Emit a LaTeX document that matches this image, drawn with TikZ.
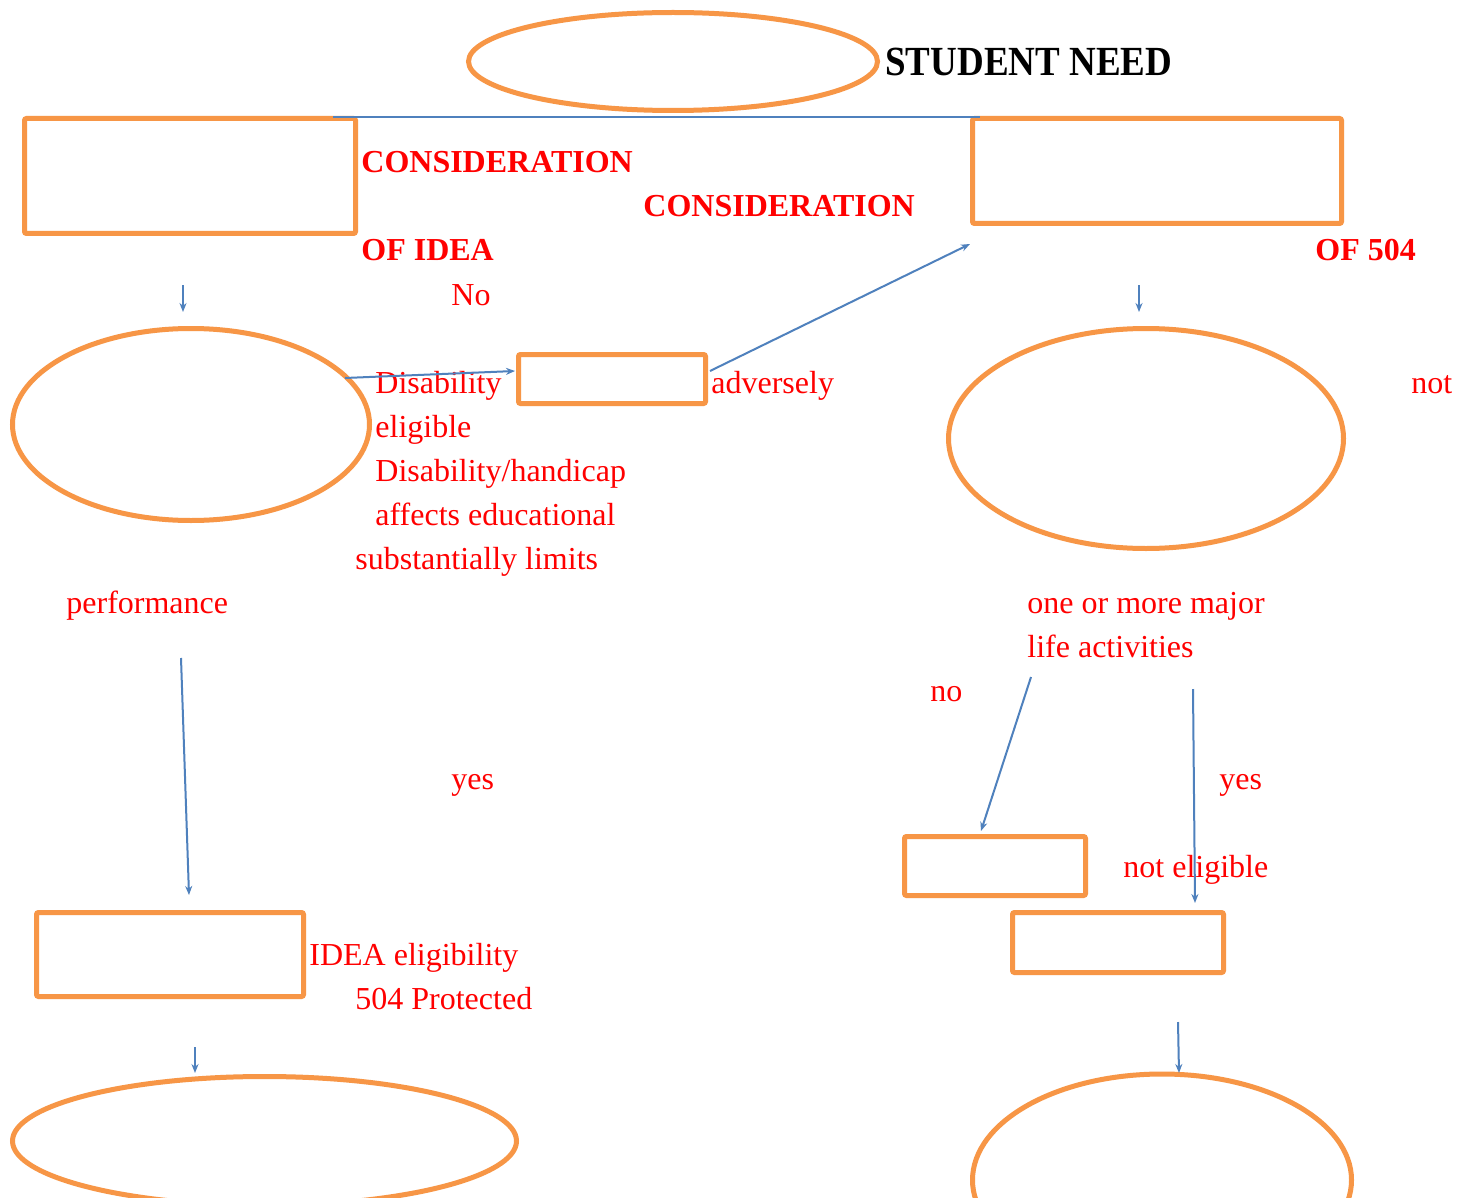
\documentclass[tikz,border=0pt]{standalone}
\usepackage{fontspec}
\setmainfont{Liberation Serif}
\usetikzlibrary{shapes.geometric,arrows.meta}
\definecolor{shapeorange}{HTML}{F79646}
\definecolor{linkblue}{HTML}{4F81BD}
\definecolor{txtred}{HTML}{FF0000}
\begin{document}
\begin{tikzpicture}[x=0.5pt,y=-0.5pt,
  oval/.style={ellipse,draw=shapeorange,line width=2.5pt,inner sep=0pt},
  boxnode/.style={rectangle,draw=shapeorange,line width=2.5pt,inner sep=0pt,rounded corners=1pt},
  lbl/.style={anchor=base west,inner sep=0pt,text=txtred,font=\fontsize{16}{19}\selectfont},
  blbl/.style={anchor=base west,inner sep=0pt,text=txtred,font=\fontsize{16}{19}\selectfont\bfseries},
  link/.style={draw=linkblue,line width=1pt},
  arr/.style={link,-{Stealth[length=4.5pt,width=3.5pt]}}]
\clip (0,0) rectangle (1471,1198);
\fill[white] (0,0) rectangle (1471,1198);
% ellipses
\node[oval,minimum width=204.5pt,minimum height=49pt] (e1) at (673,61.5) {};
\node[oval,minimum width=178.5pt,minimum height=96pt] (e2) at (191,424.5) {};
\node[oval,minimum width=197.5pt,minimum height=110pt] (e3) at (1146,438.5) {};
\node[oval,minimum width=252pt,minimum height=64.5pt] (e4) at (264.5,1141) {};
\node[oval,minimum width=189.5pt,minimum height=106pt] (e5) at (1162,1180) {};
% boxes
\node[boxnode,minimum width=165.5pt,minimum height=57.5pt] (r1) at (190,176) {};
\node[boxnode,minimum width=184.5pt,minimum height=52.5pt] (r2) at (1157,171) {};
\node[boxnode,minimum width=93.5pt,minimum height=24.5pt] (r3) at (612,379) {};
\node[boxnode,minimum width=133.5pt,minimum height=42pt] (r4) at (170,954.5) {};
\node[boxnode,minimum width=90.5pt,minimum height=29.5pt] (r5) at (995,866) {};
\node[boxnode,minimum width=105.5pt,minimum height=30pt] (r6) at (1118,942.5) {};
% texts
\node[anchor=base west,inner sep=0pt,font=\fontsize{18.5}{22}\selectfont\bfseries] (tsn) at (885,76) {\scalebox{1}[1.12]{STUDENT NEED}};
\node[blbl] (tc1) at (361,173) {CONSIDERATION};
\node[blbl] (tc2) at (643,217) {CONSIDERATION};
\node[blbl] (toi) at (361,261) {OF IDEA};
\node[blbl] (to5) at (1315,261) {OF 504};
\node[lbl] (tno1) at (451,305) {No};
\node[lbl] (tdis) at (375,393) {Disability};
\node[lbl] (tadv) at (711,393) {adversely};
\node[lbl] (tnot) at (1411,393) {not};
\node[lbl] (telg) at (375,437) {eligible};
\node[lbl] (tdh) at (375,481) {Disability/handicap};
\node[lbl] (taff) at (375,525) {affects educational};
\node[lbl] (tsub) at (355,569) {substantially limits};
\node[lbl] (tperf) at (66,613) {performance};
\node[lbl] (tmaj) at (1027,613) {one or more major};
\node[lbl] (tlife) at (1027,657) {life activities};
\node[lbl] (tno2) at (930,701) {no};
\node[lbl] (tyes1) at (451,789) {yes};
\node[lbl] (tyes2) at (1219,789) {yes};
\node[lbl] (tnel) at (1123,877) {not eligible};
\node[lbl] (tidea) at (309,965) {IDEA eligibility};
\node[lbl] (t504) at (355,1009) {504 Protected};
% connector endpoints
\coordinate (h1) at (333,117); \coordinate (h2) at (980,117);
\coordinate (a1s) at (183,285); \coordinate (a1e) at (183,312);
\coordinate (a2s) at (1139,285); \coordinate (a2e) at (1139,312);
\coordinate (a3s) at (345,378); \coordinate (a3e) at (515,371);
\coordinate (a4s) at (710,371); \coordinate (a4e) at (970,244);
\coordinate (a5s) at (181,658); \coordinate (a5e) at (189,895);
\coordinate (a6s) at (1031,677); \coordinate (a6e) at (981,831);
\coordinate (a7s) at (1193,689); \coordinate (a7e) at (1195,903);
\coordinate (a8s) at (195,1047); \coordinate (a8e) at (195,1073);
\coordinate (a9s) at (1178,1022); \coordinate (a9e) at (1179,1073);
% connectors
\draw[link] (h1) -- (h2);
\draw[arr] (a1s) -- (a1e);
\draw[arr] (a2s) -- (a2e);
\draw[arr] (a3s) -- (a3e);
\draw[arr] (a4s) -- (a4e);
\draw[arr] (a5s) -- (a5e);
\draw[arr] (a6s) -- (a6e);
\draw[arr] (a7s) -- (a7e);
\draw[arr] (a8s) -- (a8e);
\draw[arr] (a9s) -- (a9e);
\end{tikzpicture}
\end{document}
